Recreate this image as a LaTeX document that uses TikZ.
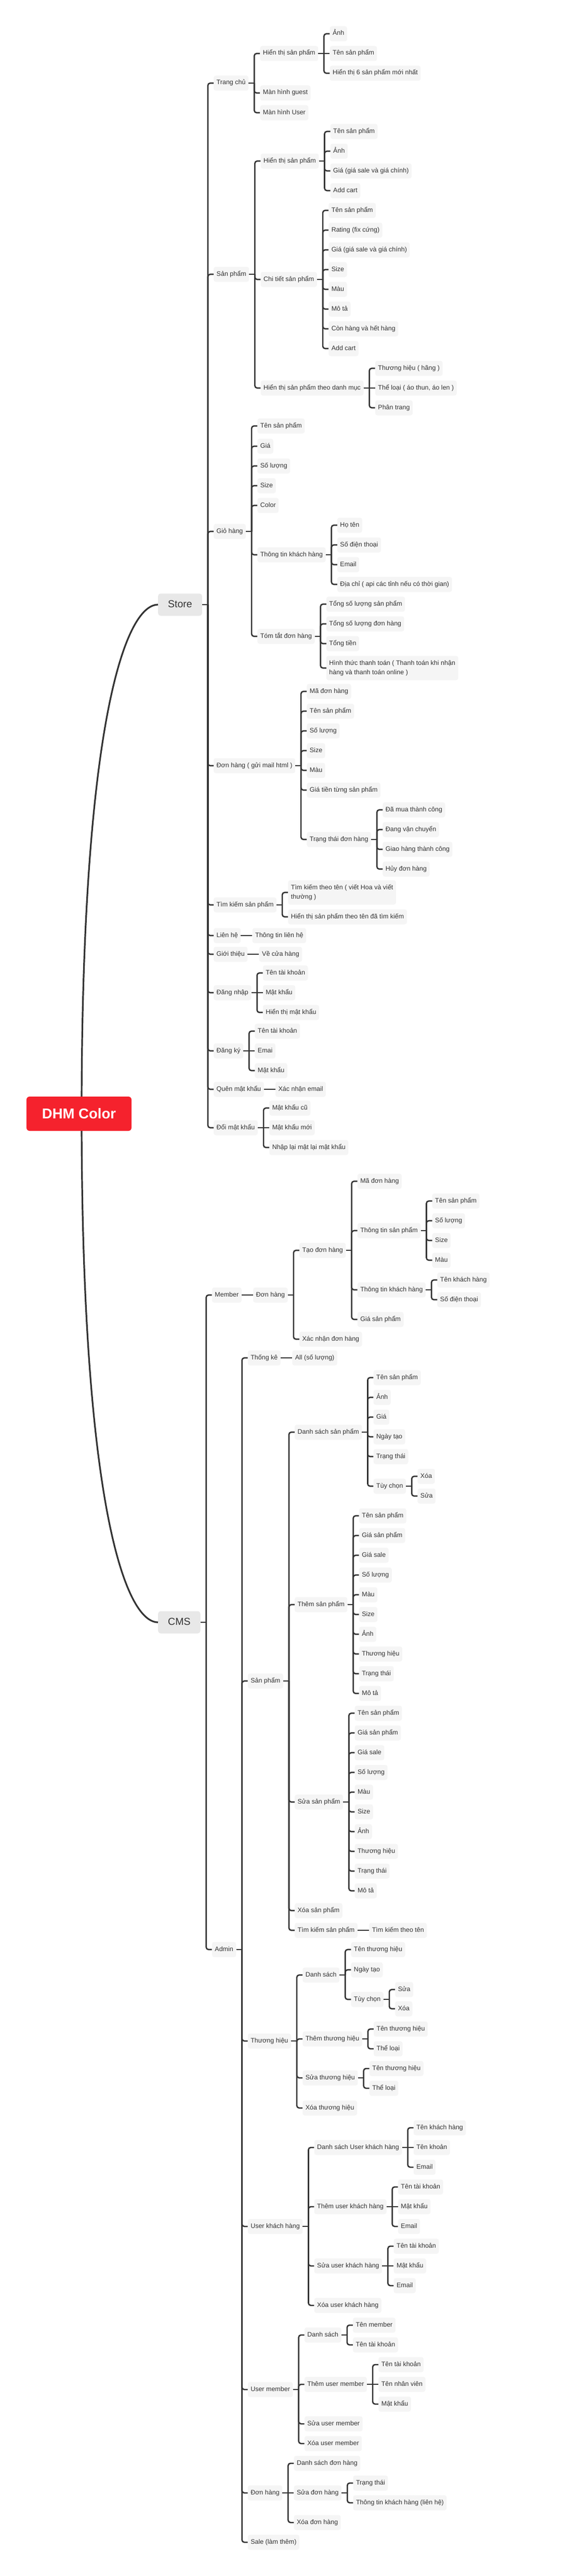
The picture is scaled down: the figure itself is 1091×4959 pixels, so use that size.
\documentclass[tikz,border=0pt]{standalone}
\usepackage{fontspec}
\setmainfont{Liberation Sans}
\usetikzlibrary{calc}
\definecolor{ln}{HTML}{333333}
\definecolor{bx}{HTML}{F5F5F5}
\definecolor{tx}{HTML}{333333}
\definecolor{mainbx}{HTML}{E8E8E8}
\definecolor{rootred}{HTML}{F5222D}
\tikzset{
  box/.style={fill=bx, rounded corners=4pt, text=tx, font=\fontsize{12.5}{18}\selectfont,
    inner xsep=5.5pt, inner ysep=0pt, minimum height=29pt, text height=9pt, text depth=3pt},
  box2/.style={fill=bx, rounded corners=4pt, text=tx, font=\fontsize{12.5}{18}\selectfont,
    inner xsep=5.5pt, inner ysep=0pt, minimum height=47pt, align=left},
  mainbox/.style={fill=mainbx, rounded corners=5pt, text=tx, font=\fontsize{19.5}{22}\selectfont,
    inner xsep=19pt, inner ysep=0pt, minimum height=43pt, text height=14pt, text depth=4pt},
  rootbox/.style={fill=rootred, rounded corners=6pt, text=white, font=\fontsize{27.5}{30}\selectfont\bfseries,
    inner xsep=30pt, inner ysep=0pt, minimum height=66pt},
  conn/.style={draw=ln, line width=2.6pt, line join=round},
  rootln/.style={draw=ln, line width=3.2pt}
}
\newcommand\kid[5][box]{%
  \path let \p1=(#3.east) in node[#1, anchor=west] (#2) at (\x1+22pt,-#4pt) {#5};
  \draw[conn] (#3.east) -- ([xshift=11pt]#3.east);
  \draw[conn, rounded corners=4.5pt] ([xshift=11pt]#3.east) |- (#2.west);}
\newcommand\kidc[4]{%
  \path let \p1=(#2.east) in node[box, anchor=west] (#1) at (\x1+22pt,-#3pt) {#4};
  \draw[conn] (#2.east) -- (#1.west);}
\begin{document}
\begin{tikzpicture}
\useasboundingbox (0pt,0pt) rectangle (1091pt,-4959pt);
% main topics
\node[mainbox, anchor=west] (s) at (304pt,-1164pt) {Store};
\node[mainbox, anchor=west] (c) at (304pt,-3123pt) {CMS};
\draw[rootln] (157pt,-2144pt) .. controls (157pt,-1400pt) and (240pt,-1164pt) .. (s.west);
\draw[rootln] (157pt,-2144pt) .. controls (157pt,-2888pt) and (240pt,-3123pt) .. (c.west);
\node[rootbox] (root) at (152pt,-2144pt) {DHM Color};
\draw[conn] (s.east) -- ([xshift=11pt]s.east);
\draw[conn] (c.east) -- ([xshift=11pt]c.east);
% ================= STORE
\kid{tc}{s}{160}{Trang chủ}
\kid{tca}{tc}{103}{Hiển thị sản phẩm}
\kid{tca1}{tca}{65}{Ảnh}
\kidc{tca2}{tca}{103}{Tên sản phẩm}
\kid{tca3}{tca}{141}{Hiển thị 6 sản phẩm mới nhất}
\kid{tcb}{tc}{179}{Màn hình guest}
\kid{tcc}{tc}{217}{Màn hình User}
%
\kid{sp}{s}{528}{Sản phẩm}
\kid{spa}{sp}{310}{Hiển thị sản phẩm}
\kid{spa1}{spa}{253}{Tên sản phẩm}
\kid{spa2}{spa}{291}{Ảnh}
\kid{spa3}{spa}{329}{Giá (giá sale và giá chính)}
\kid{spa4}{spa}{367}{Add cart}
\kid{spb}{sp}{538}{Chi tiết sản phẩm}
\kid{spb1}{spb}{405}{Tên sản phẩm}
\kid{spb2}{spb}{443}{Rating (fix cứng)}
\kid{spb3}{spb}{481}{Giá (giá sale và giá chính)}
\kid{spb4}{spb}{519}{Size}
\kid{spb5}{spb}{557}{Màu}
\kid{spb6}{spb}{595}{Mô tả}
\kid{spb7}{spb}{633}{Còn hàng và hết hàng}
\kid{spb8}{spb}{671}{Add cart}
\kid{spc}{sp}{747}{Hiển thị sản phẩm theo danh mục}
\kid{spc1}{spc}{709}{Thương hiệu ( hãng )}
\kidc{spc2}{spc}{747}{Thể loại ( áo thun, áo len )}
\kid{spc3}{spc}{785}{Phân trang}
%
\kid{gh}{s}{1023}{Giỏ hàng}
\kid{gh1}{gh}{820}{Tên sản phẩm}
\kid{gh2}{gh}{859}{Giá}
\kid{gh3}{gh}{897}{Số lượng}
\kid{gh4}{gh}{935}{Size}
\kid{gh5}{gh}{973}{Color}
\kid{gha}{gh}{1068}{Thông tin khách hàng}
\kid{gha1}{gha}{1011}{Họ tên}
\kid{gha2}{gha}{1049}{Số điện thoại}
\kid{gha3}{gha}{1087}{Email}
\kid{gha4}{gha}{1125}{Địa chỉ ( api các tỉnh nếu có thời gian)}
\kid{ghb}{gh}{1225}{Tóm tắt đơn hàng}
\kid{ghb1}{ghb}{1163}{Tổng số lượng sản phẩm}
\kid{ghb2}{ghb}{1201}{Tổng số lượng đơn hàng}
\kid{ghb3}{ghb}{1239}{Tổng tiền}
\kid[box2]{ghb4}{ghb}{1286}{Hình thức thanh toán ( Thanh toán khi nhận\\hàng và thanh toán online )}
%
\kid{dh}{s}{1474}{Đơn hàng ( gửi mail html )}
\kid{dh1}{dh}{1331}{Mã đơn hàng}
\kid{dh2}{dh}{1369}{Tên sản phẩm}
\kid{dh3}{dh}{1407}{Số lượng}
\kid{dh4}{dh}{1445}{Size}
\kid{dh5}{dh}{1483}{Màu}
\kid{dh6}{dh}{1521}{Giá tiền từng sản phẩm}
\kid{dha}{dh}{1616}{Trạng thái đơn hàng}
\kid{dha1}{dha}{1559}{Đã mua thành công}
\kid{dha2}{dha}{1597}{Đang vận chuyển}
\kid{dha3}{dha}{1635}{Giao hàng thành công}
\kid{dha4}{dha}{1673}{Hủy đơn hàng}
%
\kid{tk}{s}{1742}{Tìm kiếm sản phẩm}
\kid[box2]{tk1}{tk}{1718}{Tìm kiếm theo tên ( viết Hoa và viết\\thường )}
\kid{tk2}{tk}{1765}{Hiển thị sản phẩm theo tên đã tìm kiếm}
%
\kid{lh}{s}{1801}{Liên hệ}
\kidc{lh1}{lh}{1801}{Thông tin liên hệ}
\kid{gt}{s}{1837}{Giới thiệu}
\kidc{gt1}{gt}{1837}{Về cửa hàng}
\kid{dn}{s}{1911}{Đăng nhập}
\kid{dn1}{dn}{1873}{Tên tài khoản}
\kidc{dn2}{dn}{1911}{Mật khẩu}
\kid{dn3}{dn}{1949}{Hiển thị mật khẩu}
\kid{dk}{s}{2023}{Đăng ký}
\kid{dk1}{dk}{1985}{Tên tài khoản}
\kidc{dk2}{dk}{2023}{Emai}
\kid{dk3}{dk}{2061}{Mật khẩu}
\kid{qmk}{s}{2097}{Quên mật khẩu}
\kidc{qmk1}{qmk}{2097}{Xác nhận email}
\kid{dmk}{s}{2171}{Đổi mật khẩu}
\kid{dmk1}{dmk}{2133}{Mật khẩu cũ}
\kidc{dmk2}{dmk}{2171}{Mật khẩu mới}
\kid{dmk3}{dmk}{2209}{Nhập lại mật lại mật khẩu}
% ================= CMS
\kid{mem}{c}{2493}{Member}
\kidc{mdh}{mem}{2493}{Đơn hàng}
\kid{tdh}{mdh}{2407}{Tạo đơn hàng}
\kid{tdh1}{tdh}{2274}{Mã đơn hàng}
\kid{tdh2}{tdh}{2369}{Thông tin sản phẩm}
\kid{tdh2a}{tdh2}{2312}{Tên sản phẩm}
\kid{tdh2b}{tdh2}{2350}{Số lượng}
\kid{tdh2c}{tdh2}{2388}{Size}
\kid{tdh2d}{tdh2}{2426}{Màu}
\kid{tdh3}{tdh}{2483}{Thông tin khách hàng}
\kid{tdh3a}{tdh3}{2464}{Tên khách hàng}
\kid{tdh3b}{tdh3}{2502}{Số điện thoại}
\kid{tdh4}{tdh}{2540}{Giá sản phẩm}
\kid{xdh}{mdh}{2578}{Xác nhận đơn hàng}
%
\kid{adm}{c}{3753}{Admin}
\kid{atk}{adm}{2614}{Thống kê}
\kidc{atk1}{atk}{2614}{All (số lượng)}
%
\kid{asp}{adm}{3236}{Sản phẩm}
\kid{ds}{asp}{2757}{Danh sách sản phẩm}
\kid{ds1}{ds}{2652}{Tên sản phẩm}
\kid{ds2}{ds}{2690}{Ảnh}
\kid{ds3}{ds}{2728}{Giá}
\kid{ds4}{ds}{2766}{Ngày tạo}
\kid{ds5}{ds}{2804}{Trạng thái}
\kid{ds6}{ds}{2861}{Tùy chọn}
\kid{ds6a}{ds6}{2842}{Xóa}
\kid{ds6b}{ds6}{2880}{Sửa}
\kid{ts}{asp}{3089}{Thêm sản phẩm}
\kid{ts1}{ts}{2918}{Tên sản phẩm}
\kid{ts2}{ts}{2956}{Giá sản phẩm}
\kid{ts3}{ts}{2994}{Giá sale}
\kid{ts4}{ts}{3032}{Số lượng}
\kid{ts5}{ts}{3070}{Màu}
\kid{ts6}{ts}{3108}{Size}
\kid{ts7}{ts}{3146}{Ảnh}
\kid{ts8}{ts}{3184}{Thương hiệu}
\kid{ts9}{ts}{3222}{Trạng thái}
\kid{ts10}{ts}{3260}{Mô tả}
\kid{ss}{asp}{3469}{Sửa sản phẩm}
\kid{ss1}{ss}{3298}{Tên sản phẩm}
\kid{ss2}{ss}{3336}{Giá sản phẩm}
\kid{ss3}{ss}{3374}{Giá sale}
\kid{ss4}{ss}{3412}{Số lượng}
\kid{ss5}{ss}{3450}{Màu}
\kid{ss6}{ss}{3488}{Size}
\kid{ss7}{ss}{3526}{Ảnh}
\kid{ss8}{ss}{3564}{Thương hiệu}
\kid{ss9}{ss}{3602}{Trạng thái}
\kid{ss10}{ss}{3640}{Mô tả}
\kid{xs}{asp}{3678}{Xóa sản phẩm}
\kid{tks}{asp}{3716}{Tìm kiếm sản phẩm}
\kidc{tks1}{tks}{3716}{Tìm kiếm theo tên}
%
\kid{ath}{adm}{3929}{Thương hiệu}
\kid{thd}{ath}{3802}{Danh sách}
\kid{thd1}{thd}{3753}{Tên thương hiệu}
\kid{thd2}{thd}{3792}{Ngày tạo}
\kid{thd3}{thd}{3849}{Tùy chọn}
\kid{thd3a}{thd3}{3830}{Sửa}
\kid{thd3b}{thd3}{3867}{Xóa}
\kid{tht}{ath}{3925}{Thêm thương hiệu}
\kid{tht1}{tht}{3906}{Tên thương hiệu}
\kid{tht2}{tht}{3944}{Thể loại}
\kid{ths}{ath}{4000}{Sửa thương hiệu}
\kid{ths1}{ths}{3982}{Tên thương hiệu}
\kid{ths2}{ths}{4020}{Thể loại}
\kid{thx}{ath}{4058}{Xóa thương hiệu}
%
\kid{ukh}{adm}{4286}{User khách hàng}
\kid{ukd}{ukh}{4134}{Danh sách User khách hàng}
\kid{ukd1}{ukd}{4096}{Tên khách hàng}
\kidc{ukd2}{ukd}{4134}{Tên khoản}
\kid{ukd3}{ukd}{4172}{Email}
\kid{ukt}{ukh}{4248}{Thêm user khách hàng}
\kid{ukt1}{ukt}{4210}{Tên tài khoản}
\kidc{ukt2}{ukt}{4248}{Mật khẩu}
\kid{ukt3}{ukt}{4286}{Email}
\kid{uks}{ukh}{4362}{Sửa user khách hàng}
\kid{uks1}{uks}{4324}{Tên tài khoản}
\kidc{uks2}{uks}{4362}{Mật khẩu}
\kid{uks3}{uks}{4400}{Email}
\kid{ukx}{ukh}{4438}{Xóa user khách hàng}
%
\kid{um}{adm}{4600}{User member}
\kid{umd}{um}{4495}{Danh sách}
\kid{umd1}{umd}{4476}{Tên member}
\kid{umd2}{umd}{4514}{Tên tài khoản}
\kid{umt}{um}{4590}{Thêm user member}
\kid{umt1}{umt}{4552}{Tên tài khoản}
\kidc{umt2}{umt}{4590}{Tên nhân viên}
\kid{umt3}{umt}{4628}{Mật khẩu}
\kid{ums}{um}{4666}{Sửa user member}
\kid{umx}{um}{4704}{Xóa user member}
%
\kid{adh}{adm}{4799}{Đơn hàng}
\kid{adh1}{adh}{4742}{Danh sách đơn hàng}
\kidc{adh2}{adh}{4799}{Sửa đơn hàng}
\kid{adh2a}{adh2}{4780}{Trạng thái}
\kid{adh2b}{adh2}{4818}{Thông tin khách hàng (liên hệ)}
\kid{adh3}{adh}{4856}{Xóa đơn hàng}
\kid{sale}{adm}{4894}{Sale (làm thêm)}
\end{tikzpicture}
\end{document}
